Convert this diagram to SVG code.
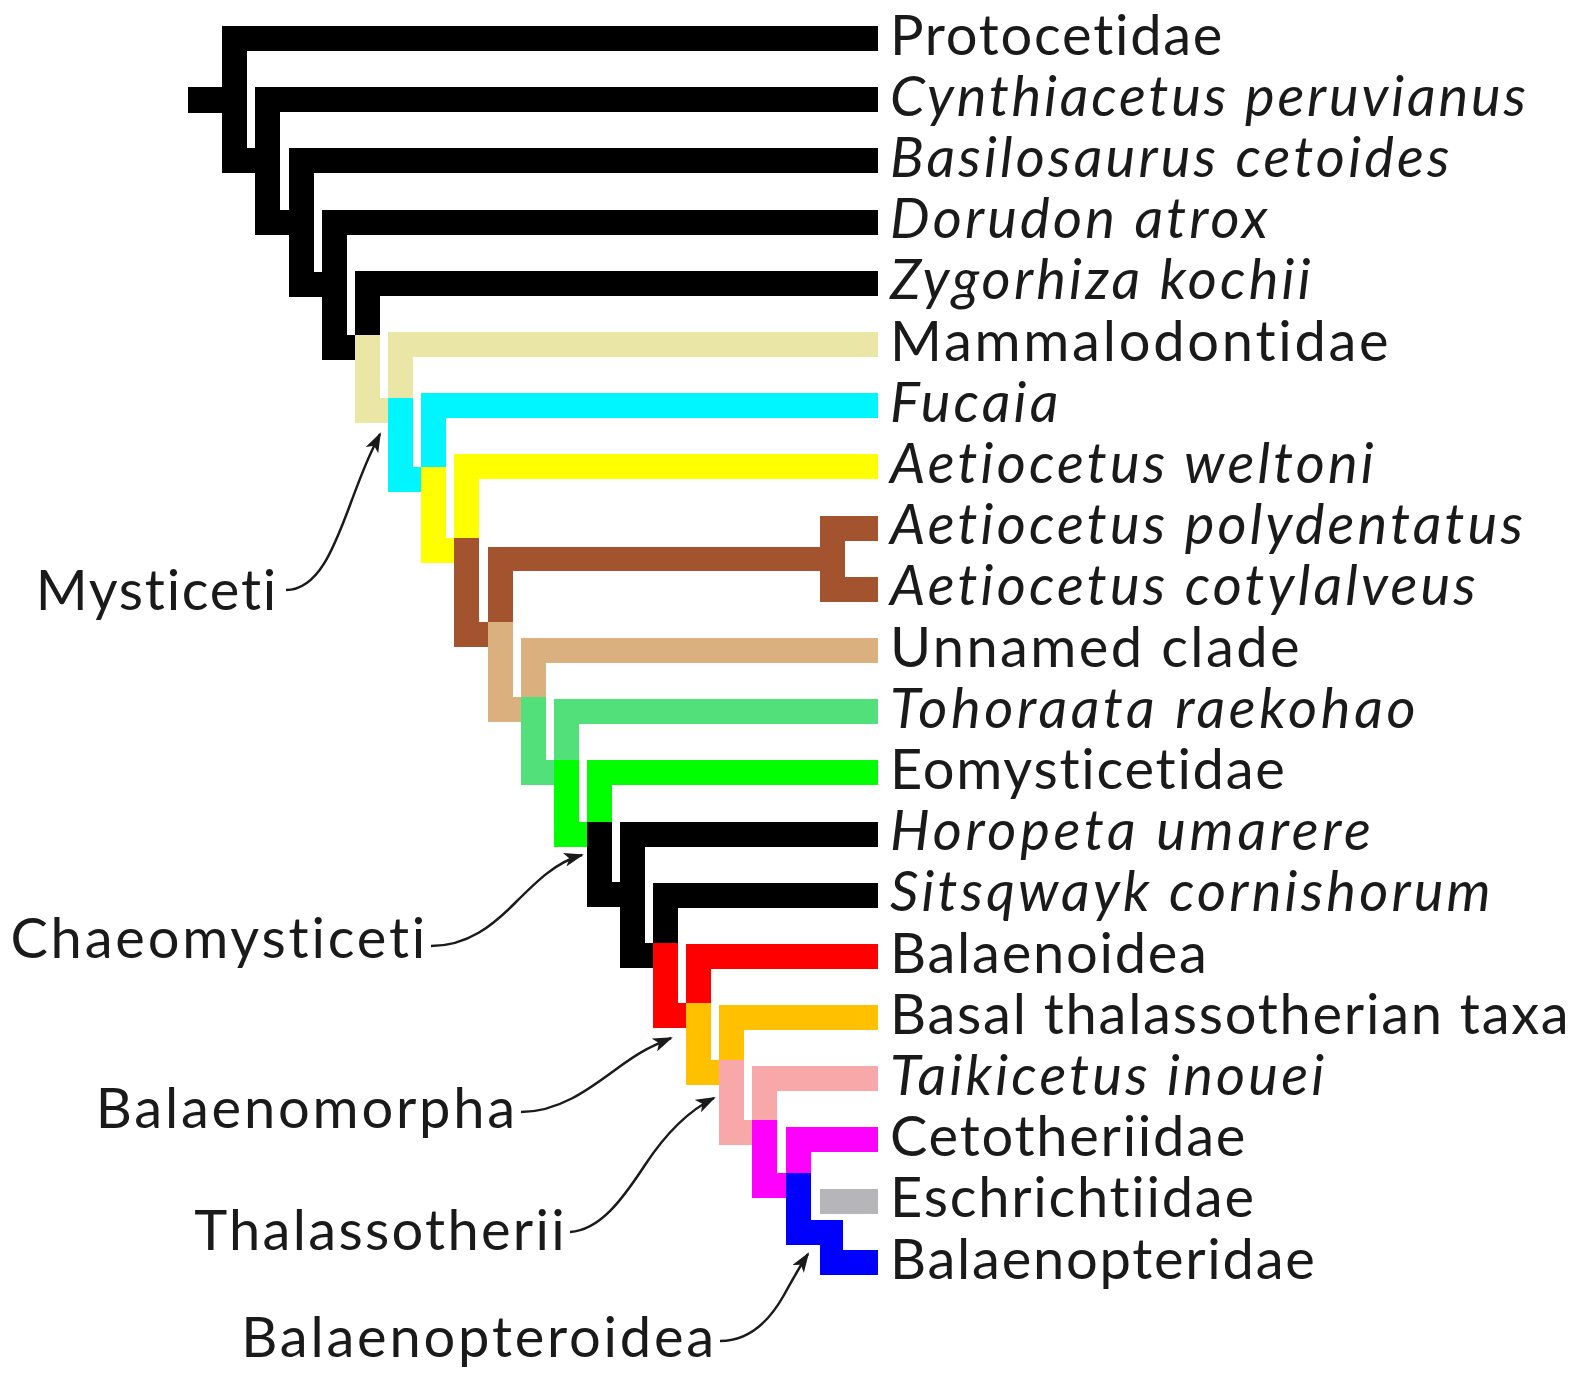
<svg xmlns="http://www.w3.org/2000/svg" width="1583" height="1374" viewBox="0 0 1583 1374">
<style>
text{font-family:Lato,"Liberation Sans",sans-serif;font-size:56px;letter-spacing:1.75px;fill:#1a1a1a}
.i{font-style:italic;letter-spacing:3.2px}
.lab{text-anchor:end;letter-spacing:2.8px}
.k{fill:#000}.kh{fill:#eae6a6}.cy{fill:#00f6ff}.ye{fill:#ffff00}.br{fill:#a3532e}.tn{fill:#d9b07e}.lg{fill:#52e07a}.gr{fill:#00ff00}.rd{fill:#ff0000}.or{fill:#ffc000}.pk{fill:#f8a8a8}.mg{fill:#ff00ff}.gy{fill:#b6b6ba}.bl{fill:#0000ff}
.cn{fill:none;stroke:#1a1a1a;stroke-width:2.5;marker-end:url(#ah)}
</style>
<defs>
<marker id="ah" viewBox="0 0 20 14" refX="18" refY="7" markerWidth="20" markerHeight="14" markerUnits="userSpaceOnUse" orient="auto">
<path d="M0,0 L20,7 L0,14 L5,7 Z" fill="#1a1a1a"/>
</marker>
</defs>
<rect width="1583" height="1374" fill="#fff"/>
<g id="root"><rect class="k" x="188" y="87" width="36" height="26"/></g>
<g id="protocetidae"><rect class="k" x="222" y="26" width="656" height="25"/><rect class="k" x="222" y="26" width="25" height="61"/><text x="890" y="54.5">Protocetidae</text></g>
<g id="cynthiacetus"><path class="k" d="M222,87H247V148H256V173H222Z"/><rect class="k" x="255" y="87" width="623" height="25"/><rect class="k" x="255" y="87" width="25" height="61"/><text class="i" x="890" y="115.7" style="letter-spacing:2.85px">Cynthiacetus peruvianus</text></g>
<g id="basilosaurus"><path class="k" d="M255,148H280V210H290V235H255Z"/><rect class="k" x="289" y="148" width="589" height="25"/><rect class="k" x="289" y="148" width="25" height="62"/><text class="i" x="890" y="176.9">Basilosaurus cetoides</text></g>
<g id="dorudon"><path class="k" d="M289,210H314V272H323V297H289Z"/><rect class="k" x="322" y="210" width="556" height="25"/><rect class="k" x="322" y="210" width="25" height="62"/><text class="i" x="890" y="238.1">Dorudon atrox</text></g>
<g id="zygorhiza"><path class="k" d="M322,272H347V335H356V360H322Z"/><rect class="k" x="355" y="271" width="523" height="25"/><rect class="k" x="355" y="271" width="25" height="64"/><text class="i" x="890" y="299.3">Zygorhiza kochii</text></g>
<g id="mammalodontidae"><path class="kh" d="M355,335H380V398H389V423H355Z"/><rect class="kh" x="388" y="332" width="490" height="25"/><rect class="kh" x="388" y="332" width="25" height="66"/><text x="890" y="360.5" style="letter-spacing:2.75px">Mammalodontidae</text></g>
<g id="fucaia"><path class="cy" d="M388,398H413V467H422V492H388Z"/><rect class="cy" x="421" y="393" width="457" height="25"/><rect class="cy" x="421" y="393" width="25" height="74"/><text class="i" x="890" y="421.7">Fucaia</text></g>
<g id="aetiocetus-weltoni"><path class="ye" d="M421,467H446V538H455V563H421Z"/><rect class="ye" x="454" y="454" width="424" height="25"/><rect class="ye" x="454" y="454" width="25" height="84"/><text class="i" x="890" y="482.9">Aetiocetus weltoni</text></g>
<g id="aetiocetus-clade"><path class="br" d="M454,538H479V622H489V647H454Z"/><rect class="br" x="488" y="547" width="357" height="24"/><rect class="br" x="488" y="547" width="25" height="75"/><rect class="br" x="820" y="516" width="25" height="86"/><rect class="br" x="820" y="516" width="58" height="25"/><rect class="br" x="820" y="577" width="58" height="25"/><text class="i" x="890" y="544.1">Aetiocetus polydentatus</text><text class="i" x="890" y="605.3">Aetiocetus cotylalveus</text></g>
<g id="unnamed-clade"><path class="tn" d="M488,622H513V697H522V722H488Z"/><rect class="tn" x="521" y="638" width="357" height="25"/><rect class="tn" x="521" y="638" width="25" height="59"/><text x="890" y="666.5" style="letter-spacing:2.4px">Unnamed clade</text></g>
<g id="tohoraata"><path class="lg" d="M521,697H546V760H555V785H521Z"/><rect class="lg" x="554" y="699" width="324" height="25"/><rect class="lg" x="554" y="699" width="25" height="61"/><text class="i" x="890" y="727.7" style="letter-spacing:3.7px">Tohoraata raekohao</text></g>
<g id="eomysticetidae"><path class="gr" d="M554,760H579V822H588V847H554Z"/><rect class="gr" x="587" y="760" width="291" height="25"/><rect class="gr" x="587" y="760" width="25" height="62"/><text x="890" y="788.9">Eomysticetidae</text></g>
<g id="horopeta"><path class="k" d="M587,822H612V882H621V907H587Z"/><rect class="k" x="620" y="822" width="258" height="25"/><rect class="k" x="620" y="822" width="25" height="60"/><text class="i" x="890" y="850.1" style="letter-spacing:3.75px">Horopeta umarere</text></g>
<g id="sitsqwayk"><path class="k" d="M620,882H645V943H654V968H620Z"/><rect class="k" x="653" y="883" width="225" height="25"/><rect class="k" x="653" y="883" width="25" height="60"/><text class="i" x="890" y="911.3">Sitsqwayk cornishorum</text></g>
<g id="balaenoidea"><path class="rd" d="M653,943H678V1003H687V1028H653Z"/><rect class="rd" x="686" y="944" width="192" height="25"/><rect class="rd" x="686" y="944" width="25" height="59"/><text x="890" y="972.5">Balaenoidea</text></g>
<g id="basal-thalassotherian"><path class="or" d="M686,1003H711V1060H720V1085H686Z"/><rect class="or" x="719" y="1005" width="159" height="25"/><rect class="or" x="719" y="1005" width="25" height="55"/><text x="890" y="1033.7">Basal thalassotherian taxa</text></g>
<g id="taikicetus"><path class="pk" d="M719,1060H744V1120H753V1145H719Z"/><rect class="pk" x="752" y="1066" width="126" height="25"/><rect class="pk" x="752" y="1066" width="25" height="54"/><text class="i" x="890" y="1094.9">Taikicetus inouei</text></g>
<g id="cetotheriidae"><path class="mg" d="M752,1120H777V1173H787V1198H752Z"/><rect class="mg" x="786" y="1127" width="92" height="25"/><rect class="mg" x="786" y="1127" width="25" height="46"/><text x="890" y="1156.1">Cetotheriidae</text></g>
<g id="eschrichtiidae"><rect class="gy" x="820" y="1189" width="58" height="25"/><text x="890" y="1217.3">Eschrichtiidae</text></g>
<g id="balaenopteridae"><path class="bl" d="M786,1173H811V1220H843V1250H878V1275H820V1245H786Z"/><text x="890" y="1278.5">Balaenopteridae</text></g>
<g id="label-mysticeti"><text class="lab" x="278" y="610" style="letter-spacing:1.75px">Mysticeti</text></g>
<g id="label-chaeomysticeti"><text class="lab" x="428" y="958">Chaeomysticeti</text></g>
<g id="label-balaenomorpha"><text class="lab" x="518" y="1128">Balaenomorpha</text></g>
<g id="label-thalassotherii"><text class="lab" x="567" y="1250" style="letter-spacing:2.3px">Thalassotherii</text></g>
<g id="label-balaenopteroidea"><text class="lab" x="717" y="1357">Balaenopteroidea</text></g>
<g id="connectors">
<path class="cn" d="M286,590C318,590 334,548 350,505S371,452 380,434"/>
<path class="cn" d="M431,946C468,946 493,925 515,903S556,862 582,855"/>
<path class="cn" d="M521,1112C558,1112 588,1090 615,1070S652,1046 671,1038"/>
<path class="cn" d="M570,1232C600,1230 622,1200 645,1165S690,1110 714,1098"/>
<path class="cn" d="M720,1341C750,1341 770,1320 784,1295S800,1266 808,1254"/>
</g>
</svg>
